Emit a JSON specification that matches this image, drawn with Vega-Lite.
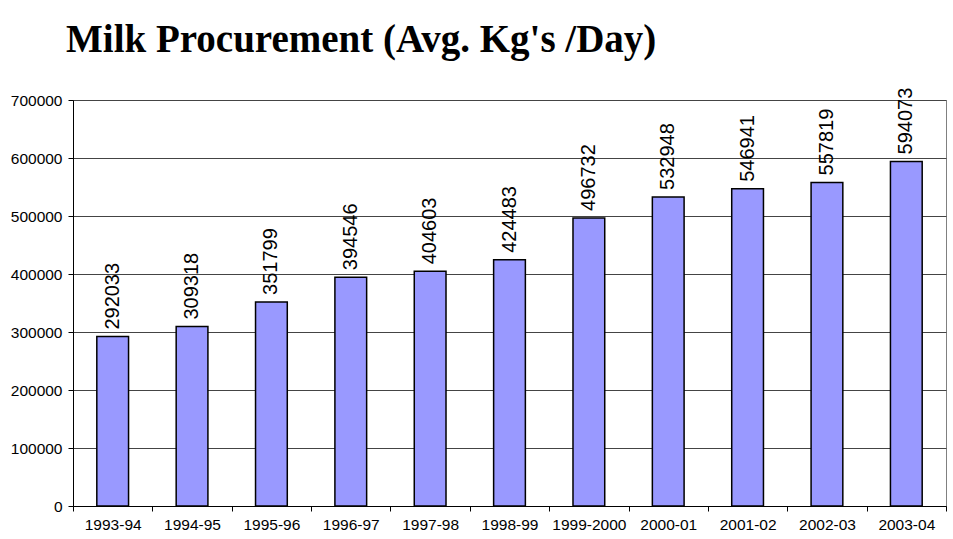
{
  "$schema": "https://vega.github.io/schema/vega-lite/v6.json",
  "autosize": "none",
  "width": 873,
  "height": 406,
  "padding": {"left": 73, "top": 100, "right": 7, "bottom": 33},
  "background": "white",
  "title": {
    "text": "Milk Procurement (Avg. Kg's /Day)",
    "font": "Liberation Serif",
    "fontSize": 39,
    "fontWeight": "bold",
    "color": "black",
    "anchor": "start",
    "frame": "group",
    "baseline": "alphabetic",
    "dx": -7,
    "offset": -3
  },
  "config": {
    "view": {"stroke": "#808080", "strokeWidth": 1},
    "axis": {
      "labelFont": "Liberation Sans",
      "labelFontSize": 15.5,
      "labelColor": "black",
      "domainColor": "black",
      "tickColor": "black",
      "tickSize": 5,
      "title": null
    }
  },
  "data": {
    "values": [
      {"year": "1993-94", "kg": 292033},
      {"year": "1994-95", "kg": 309318},
      {"year": "1995-96", "kg": 351799},
      {"year": "1996-97", "kg": 394546},
      {"year": "1997-98", "kg": 404603},
      {"year": "1998-99", "kg": 424483},
      {"year": "1999-2000", "kg": 496732},
      {"year": "2000-01", "kg": 532948},
      {"year": "2001-02", "kg": 546941},
      {"year": "2002-03", "kg": 557819},
      {"year": "2003-04", "kg": 594073}
    ]
  },
  "encoding": {
    "x": {
      "field": "year",
      "type": "nominal",
      "sort": null,
      "scale": {"paddingInner": 0, "paddingOuter": 0},
      "axis": {
        "labelAngle": 0,
        "tickBand": "extent",
        "labelPadding": 6,
        "grid": false
      }
    },
    "y": {
      "field": "kg",
      "type": "quantitative",
      "scale": {"domain": [0, 700000], "nice": false},
      "axis": {
        "values": [0, 100000, 200000, 300000, 400000, 500000, 600000, 700000],
        "format": "d",
        "grid": true,
        "gridColor": "#444444",
        "gridWidth": 1,
        "labelPadding": 6
      }
    }
  },
  "layer": [
    {
      "mark": {
        "type": "bar",
        "width": {"band": 0.4},
        "color": "#9999FF",
        "stroke": "black",
        "strokeWidth": 1.5
      }
    },
    {
      "mark": {
        "type": "text",
        "angle": 270,
        "align": "left",
        "baseline": "middle",
        "dx": 7,
        "font": "Liberation Sans",
        "fontSize": 20,
        "color": "black"
      },
      "encoding": {
        "text": {"field": "kg", "type": "quantitative", "format": "d"}
      }
    }
  ]
}
